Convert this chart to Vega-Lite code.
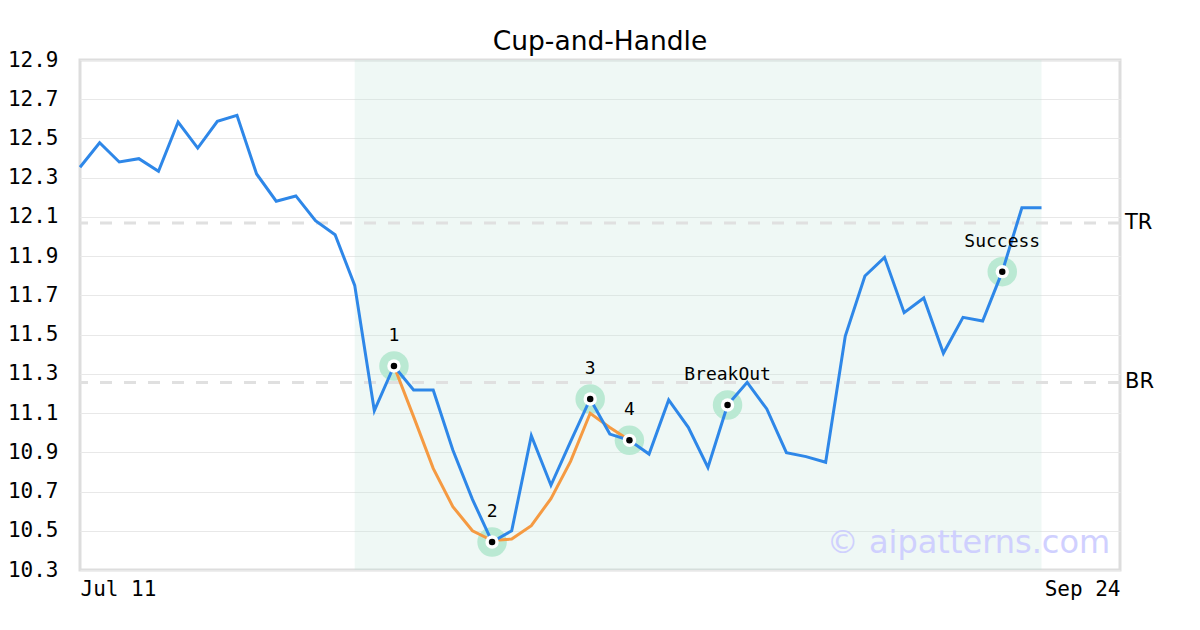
{
  "$schema": "https://vega.github.io/schema/vega-lite/v6.json",
  "width": 1040,
  "height": 510,
  "autosize": {"type": "none"},
  "padding": {"left": 80, "top": 60, "right": 80, "bottom": 60},
  "background": "white",
  "title": {"text": "Cup-and-Handle", "font": "DejaVu Sans", "fontSize": 26.5, "fontWeight": "normal", "color": "#000000", "frame": "group", "anchor": "middle", "baseline": "alphabetic", "offset": -27},
  "config": {
    "view": {"stroke": "#dddddd", "strokeWidth": 3},
    "axis": {"labelFont": "DejaVu Sans Mono", "labelFontSize": 21, "labelColor": "#000000", "domain": false, "ticks": false, "title": null, "labelOverlap": false}
  },
  "datasets": {
    "price": [
      {"i": 0, "v": 12.353}, {"i": 1, "v": 12.478}, {"i": 2, "v": 12.380}, {"i": 3, "v": 12.397},
      {"i": 4, "v": 12.333}, {"i": 5, "v": 12.584}, {"i": 6, "v": 12.451}, {"i": 7, "v": 12.587},
      {"i": 8, "v": 12.618}, {"i": 9, "v": 12.319}, {"i": 10, "v": 12.180}, {"i": 11, "v": 12.207},
      {"i": 12, "v": 12.081}, {"i": 13, "v": 12.009}, {"i": 14, "v": 11.751}, {"i": 15, "v": 11.112},
      {"i": 16, "v": 11.340}, {"i": 17, "v": 11.218}, {"i": 18, "v": 11.218}, {"i": 19, "v": 10.912},
      {"i": 20, "v": 10.660}, {"i": 21, "v": 10.443}, {"i": 22, "v": 10.500}, {"i": 23, "v": 10.985},
      {"i": 24, "v": 10.732}, {"i": 25, "v": 10.954}, {"i": 26, "v": 11.172}, {"i": 27, "v": 10.993},
      {"i": 28, "v": 10.961}, {"i": 29, "v": 10.891}, {"i": 30, "v": 11.167}, {"i": 31, "v": 11.027},
      {"i": 32, "v": 10.823}, {"i": 33, "v": 11.141}, {"i": 34, "v": 11.257}, {"i": 35, "v": 11.121},
      {"i": 36, "v": 10.898}, {"i": 37, "v": 10.878}, {"i": 38, "v": 10.849}, {"i": 39, "v": 11.493},
      {"i": 40, "v": 11.799}, {"i": 41, "v": 11.894}, {"i": 42, "v": 11.612}, {"i": 43, "v": 11.687},
      {"i": 44, "v": 11.405}, {"i": 45, "v": 11.588}, {"i": 46, "v": 11.569}, {"i": 47, "v": 11.821},
      {"i": 48, "v": 12.147}, {"i": 49, "v": 12.147}
    ],
    "cup": [
      {"i": 16, "v": 11.340}, {"i": 17, "v": 11.082}, {"i": 18, "v": 10.818}, {"i": 19, "v": 10.623},
      {"i": 20, "v": 10.500}, {"i": 21, "v": 10.450}, {"i": 22, "v": 10.458}, {"i": 23, "v": 10.526},
      {"i": 24, "v": 10.664}, {"i": 25, "v": 10.854}, {"i": 26, "v": 11.099}, {"i": 27, "v": 11.027},
      {"i": 28, "v": 10.961}
    ],
    "pts": [
      {"label": "1", "i": 16, "v": 11.340},
      {"label": "2", "i": 21, "v": 10.443},
      {"label": "3", "i": 26, "v": 11.172},
      {"label": "4", "i": 28, "v": 10.961},
      {"label": "BreakOut", "i": 33, "v": 11.141},
      {"label": "Success", "i": 47, "v": 11.821}
    ],
    "levels": [
      {"label": "TR", "v": 12.069, "i": 53},
      {"label": "BR", "v": 11.256, "i": 53}
    ],
    "band": [{"start": 14, "end": 49}],
    "mark": [{"text": "© aipatterns.com", "i": 52.5, "v": 10.385}]
  },
  "layer": [
    {
      "data": {"name": "band"},
      "mark": {"type": "rect", "fill": "#c0e4d6", "opacity": 0.25},
      "encoding": {
        "x": {"field": "start", "type": "quantitative", "scale": {"domain": [0, 53], "nice": false, "zero": false}},
        "x2": {"field": "end"}
      }
    },
    {
      "data": {"name": "price"},
      "mark": {"type": "line", "color": "#2e87e8", "strokeWidth": 0, "opacity": 0},
      "encoding": {
        "x": {"field": "i", "type": "quantitative", "scale": {"domain": [0, 53], "nice": false, "zero": false},
          "axis": {"values": [0, 53], "labelExpr": "datum.value == 0 ? 'Jul 11' : 'Sep 24'", "labelFlush": true, "labelPadding": 8, "grid": false}},
        "y": {"field": "v", "type": "quantitative", "scale": {"domain": [10.3, 12.9], "nice": false, "zero": false},
          "axis": {"values": [10.3, 10.5, 10.7, 10.9, 11.1, 11.3, 11.5, 11.7, 11.9, 12.1, 12.3, 12.5, 12.7, 12.9], "tickCount": 30, "format": ".1f", "labelFlush": false, "labelPadding": 22, "grid": true, "gridColor": "#e8e8e8", "gridWidth": 1}}
      }
    },
    {
      "data": {"name": "levels"},
      "mark": {"type": "rule", "color": "#e0e0e0", "strokeWidth": 3, "strokeDash": [12, 12]},
      "encoding": {
        "y": {"field": "v", "type": "quantitative"}
      }
    },
    {
      "data": {"name": "pts"},
      "mark": {"type": "point", "filled": true, "shape": "circle", "size": 870, "color": "#bae9d3", "opacity": 1, "strokeWidth": 0},
      "encoding": {
        "x": {"field": "i", "type": "quantitative"},
        "y": {"field": "v", "type": "quantitative"}
      }
    },
    {
      "data": {"name": "cup"},
      "mark": {"type": "line", "color": "#f59a42", "strokeWidth": 3},
      "encoding": {
        "x": {"field": "i", "type": "quantitative"},
        "y": {"field": "v", "type": "quantitative"}
      }
    },
    {
      "data": {"name": "price"},
      "mark": {"type": "line", "color": "#2e87e8", "strokeWidth": 3},
      "encoding": {
        "x": {"field": "i", "type": "quantitative"},
        "y": {"field": "v", "type": "quantitative"}
      }
    },
    {
      "data": {"name": "pts"},
      "mark": {"type": "point", "filled": true, "shape": "circle", "size": 180, "color": "#ffffff", "opacity": 1, "strokeWidth": 0},
      "encoding": {
        "x": {"field": "i", "type": "quantitative"},
        "y": {"field": "v", "type": "quantitative"}
      }
    },
    {
      "data": {"name": "pts"},
      "mark": {"type": "point", "filled": true, "shape": "circle", "size": 42, "color": "#000000", "opacity": 1, "strokeWidth": 0},
      "encoding": {
        "x": {"field": "i", "type": "quantitative"},
        "y": {"field": "v", "type": "quantitative"}
      }
    },
    {
      "data": {"name": "pts"},
      "mark": {"type": "text", "font": "DejaVu Sans Mono", "fontSize": 18, "color": "#000000", "dy": -30, "baseline": "middle", "align": "center"},
      "encoding": {
        "x": {"field": "i", "type": "quantitative"},
        "y": {"field": "v", "type": "quantitative"},
        "text": {"field": "label"}
      }
    },
    {
      "data": {"name": "levels"},
      "mark": {"type": "text", "font": "DejaVu Sans", "fontSize": 21, "color": "#000000", "dx": 5, "baseline": "middle", "align": "left"},
      "encoding": {
        "x": {"field": "i", "type": "quantitative"},
        "y": {"field": "v", "type": "quantitative"},
        "text": {"field": "label"}
      }
    },
    {
      "data": {"name": "mark"},
      "mark": {"type": "text", "font": "DejaVu Sans", "fontSize": 32, "color": "#ccccff", "opacity": 0.9, "baseline": "alphabetic", "align": "right"},
      "encoding": {
        "x": {"field": "i", "type": "quantitative"},
        "y": {"field": "v", "type": "quantitative"},
        "text": {"field": "text"}
      }
    }
  ]
}
